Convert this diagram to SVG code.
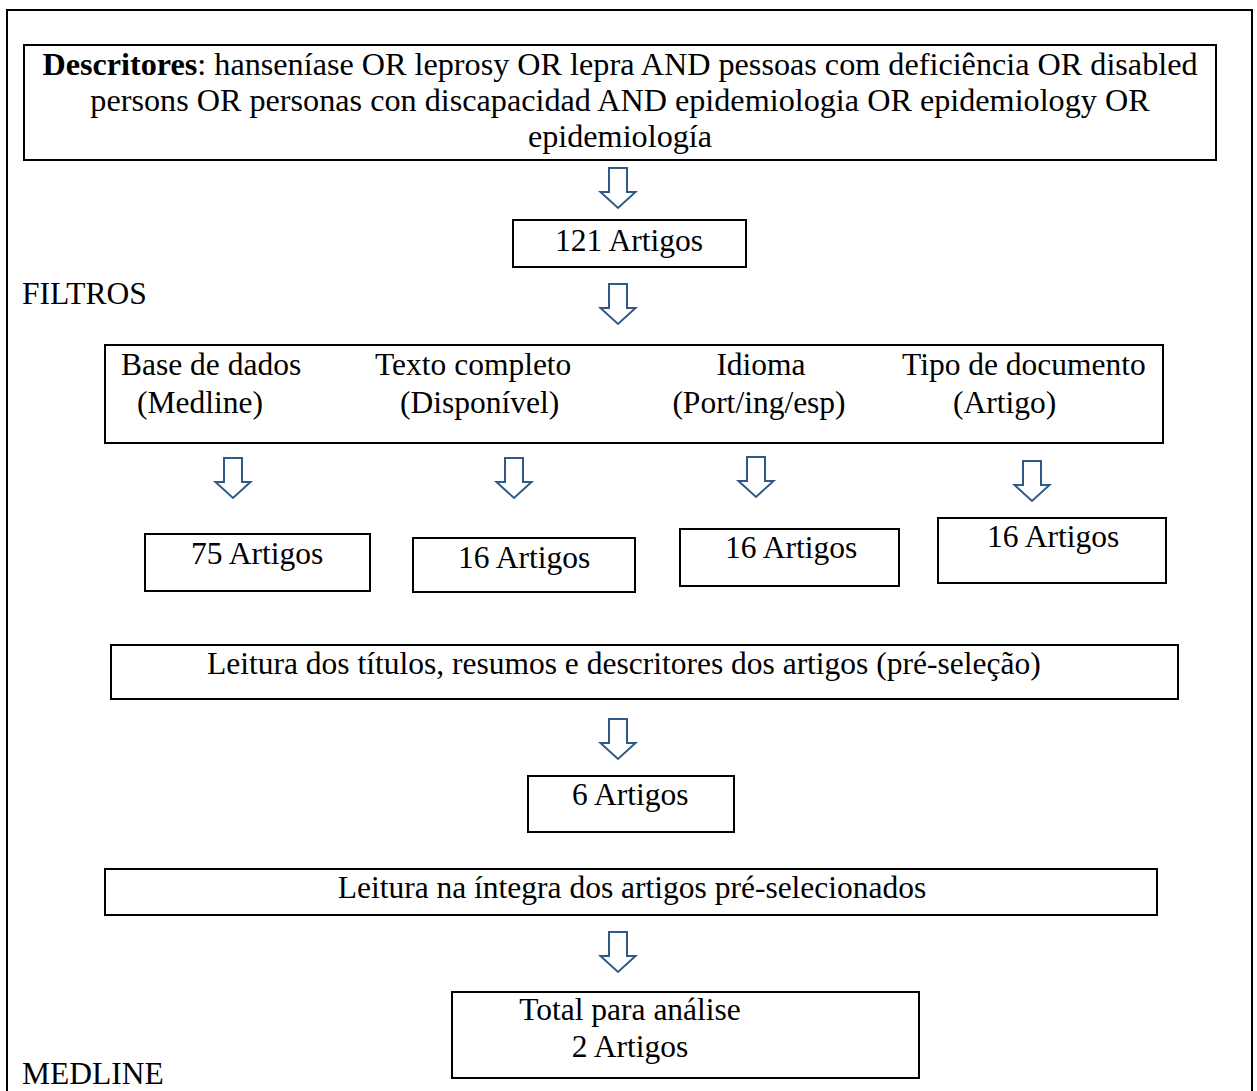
<svg xmlns="http://www.w3.org/2000/svg" width="1257" height="1091" viewBox="0 0 1257 1091">
<defs>
<style>
.box{fill:#fff;stroke:#000;stroke-width:2}
.frame{fill:none;stroke:#000;stroke-width:2}
.t{font-family:"Liberation Serif","Times New Roman",serif;font-size:31.5px;fill:#000}
.big{font-size:32.2px}
.c{text-anchor:middle}
.arr{fill:#fff;stroke:#2F5A86;stroke-width:2;stroke-linejoin:miter}
</style>
<path id="dn" class="arr" d="M-9,0 H9 V24 H17.5 L0,40 L-17.5,24 H-9 Z"/>
</defs>
<rect width="1257" height="1091" fill="#fff"/>
<path class="frame" d="M7,1100 V10 H1252 V1100"/>
<g id="descritores">
<rect class="box" x="24" y="45" width="1192" height="115"/>
<text class="t big c" x="620" y="75"><tspan font-weight="bold">Descritores</tspan>: hanseníase OR leprosy OR lepra AND pessoas com deficiência OR disabled</text>
<text class="t big c" x="620" y="111">persons OR personas con discapacidad AND epidemiologia OR epidemiology OR</text>
<text class="t big c" x="620" y="147">epidemiología</text>
</g>
<g id="n121">
<rect class="box" x="513" y="220" width="233" height="47"/>
<text class="t c" x="629" y="251">121 Artigos</text>
</g>
<g id="filtros-label"><text class="t" x="22" y="304">FILTROS</text></g>
<g id="filtros">
<rect class="box" x="105" y="345" width="1058" height="98"/>
<text class="t" x="121" y="375">Base de dados</text>
<text class="t" x="137" y="413">(Medline)</text>
<text class="t" x="375" y="375">Texto completo</text>
<text class="t" x="400" y="413">(Disponível)</text>
<text class="t c" x="761" y="375">Idioma</text>
<text class="t c" x="759" y="413">(Port/ing/esp)</text>
<text class="t" x="902" y="375">Tipo de documento</text>
<text class="t" x="953" y="413">(Artigo)</text>
</g>
<g id="n75">
<rect class="box" x="145" y="534" width="225" height="57"/>
<text class="t" x="191" y="564">75 Artigos</text>
</g>
<g id="n16a">
<rect class="box" x="413" y="538" width="222" height="54"/>
<text class="t" x="458" y="568">16 Artigos</text>
</g>
<g id="n16b">
<rect class="box" x="680" y="529" width="219" height="57"/>
<text class="t" x="725" y="558">16 Artigos</text>
</g>
<g id="n16c">
<rect class="box" x="938" y="518" width="228" height="65"/>
<text class="t" x="987" y="547">16 Artigos</text>
</g>
<g id="leitura1">
<rect class="box" x="111" y="645" width="1067" height="54"/>
<text class="t" x="207" y="674">Leitura dos títulos, resumos e descritores dos artigos (pré-seleção)</text>
</g>
<g id="n6">
<rect class="box" x="528" y="776" width="206" height="56"/>
<text class="t" x="572" y="805">6 Artigos</text>
</g>
<g id="leitura2">
<rect class="box" x="105" y="869" width="1052" height="46"/>
<text class="t c" x="632" y="898">Leitura na íntegra dos artigos pré-selecionados</text>
</g>
<g id="total">
<rect class="box" x="452" y="992" width="467" height="86"/>
<text class="t c" x="630" y="1020">Total para análise</text>
<text class="t c" x="630" y="1057">2 Artigos</text>
</g>
<g id="medline-label"><text class="t" x="22" y="1084">MEDLINE</text></g>
<g id="connectors">
<use href="#dn" x="618" y="168"/>
<use href="#dn" x="618" y="284"/>
<use href="#dn" x="233" y="458"/>
<use href="#dn" x="514" y="458"/>
<use href="#dn" x="756" y="457"/>
<use href="#dn" x="1032" y="461"/>
<use href="#dn" x="618" y="719"/>
<use href="#dn" x="618" y="932"/>
</g>
</svg>
